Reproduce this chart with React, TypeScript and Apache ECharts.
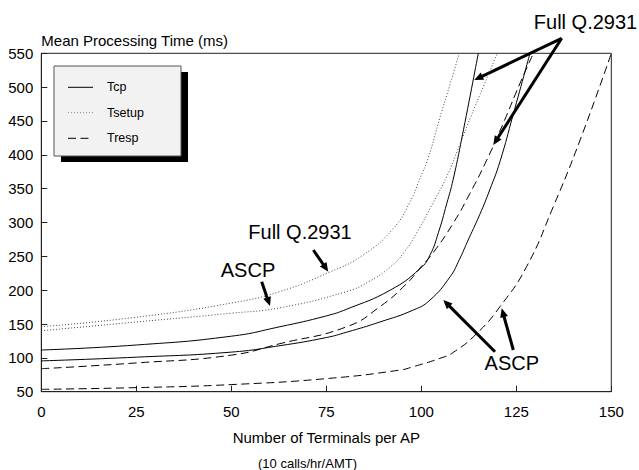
import React, { useEffect, useRef } from 'react';
import * as echarts from 'echarts';

// ---- data (x = terminals per AP, y = mean processing time ms) ----
const tcpFull: number[][] = [
  [0, 111.6], [25, 119], [50, 132], [62.8, 146], [75, 162], [80.4, 172], [91.8, 200],
  [99.7, 232], [102.3, 252], [104.5, 285], [106.7, 328], [108.4, 364], [111.1, 437], [115, 550],
];
const tcpAscp: number[][] = [
  [0, 95.5], [25, 101], [50, 108.5], [62.8, 118], [75, 130], [80.4, 138], [89.1, 153],
  [97.9, 170.7], [102.3, 185.5], [107.6, 220], [110, 245], [112, 270], [115.4, 312],
  [118, 348], [120.7, 390], [124.2, 460], [128.6, 550],
];
const tsetupFull: number[][] = [
  [0, 146], [25, 160], [50, 181], [62.8, 198], [76, 227], [84.7, 252], [92.6, 291],
  [97, 330], [99.7, 366], [101.8, 395], [104.9, 455], [107.5, 503], [110, 550],
];
const tsetupAscp: number[][] = [
  [0, 140], [25, 153], [50, 166], [62.8, 174], [80.4, 198], [86, 212], [91.8, 234],
  [95.5, 256], [98.8, 285], [103, 328], [106.7, 368], [110, 413], [113, 456],
  [116.5, 503], [120, 550],
];
const trespFull: number[][] = [
  [0, 84], [25, 92.5], [50, 104], [62.8, 121], [80.4, 146], [89.1, 175.6], [96.2, 210],
  [99.7, 233], [103.2, 256], [108.4, 299], [112.8, 343], [117.2, 392], [121.6, 447],
  [126, 506], [129.5, 550],
];
const trespAscp: number[][] = [
  [0, 53.5], [25, 56], [50, 60.5], [76, 69.8], [94.4, 82], [97.9, 87], [104.9, 99.3],
  [108.4, 108], [114.6, 136], [120.7, 175.6], [127.7, 234.7], [134.7, 323],
  [141.8, 422], [150, 550],
];

const legendNames = ['Tcp', 'Tsetup', 'Tresp'];
const titleText = 'Mean Processing Time (ms)';
const xName = 'Number of Terminals per AP';
const xSubName = '(10 calls/hr/AMT)';
const labelFull = 'Full Q.2931';
const labelAscp = 'ASCP';

const FONT = '"Liberation Sans", Arial, Helvetica, sans-serif';
const SOLID: any = 'solid';
const DOTTED: any = [1, 2];
const DASHED: any = [8, 4.5];

function arrow(x1: number, y1: number, x2: number, y2: number) {
  const dx = x2 - x1, dy = y2 - y1;
  const len = Math.hypot(dx, dy);
  const ux = dx / len, uy = dy / len;
  const hl = 9, hw = 4;
  const bx = x2 - ux * hl, by = y2 - uy * hl;
  return {
    type: 'group',
    z: 100,
    children: [
      { type: 'line', shape: { x1, y1, x2: bx + ux * 1, y2: by + uy * 1 }, style: { stroke: '#000', lineWidth: 3 } },
      {
        type: 'polygon',
        shape: { points: [[x2, y2], [bx - uy * hw, by + ux * hw], [bx + uy * hw, by - ux * hw]] },
        style: { fill: '#000' },
      },
    ],
  };
}

function txt(x: number, y: number, text: string, size: number, align = 'center') {
  return {
    type: 'text', x, y, z: 100,
    style: { text, fontSize: size, fontFamily: FONT, fill: '#000', align, verticalAlign: 'middle' },
  };
}

function mkSeries(name: string, data: number[][], type: any, color: string) {
  return {
    type: 'line', name, data, showSymbol: false, symbol: 'none', smooth: 0.5, clip: true,
    lineStyle: { color, width: 1, type },
  };
}

export default function App() {
  const ref = useRef<HTMLDivElement>(null);
  useEffect(() => {
    if (!ref.current) return;
    const chart = echarts.init(ref.current, undefined, { renderer: 'svg' });
    const lx = 54, ly = 66, lw = 127, lh = 90;
    const rows = [87.3, 112.7, 138.3];
    const styles = [SOLID, DOTTED, DASHED];
    const legendColors = ['#000', '#888', '#000'];
    const legendEls: any[] = [
      { type: 'rect', z: 90, shape: { x: lx + 7, y: ly + 6, width: lw, height: lh }, style: { fill: '#000' } },
      { type: 'rect', z: 91, shape: { x: lx, y: ly, width: lw, height: lh }, style: { fill: '#f2f2f2', stroke: '#555', lineWidth: 1 } },
    ];
    rows.forEach((ry, i) => {
      legendEls.push({
        type: 'line', z: 92, shape: { x1: 68, y1: ry, x2: 93, y2: ry },
        style: { stroke: legendColors[i], lineWidth: 1, lineDash: styles[i] === 'solid' ? null : styles[i] },
      });
      legendEls.push({
        type: 'text', x: 107, y: ry, z: 92,
        style: { text: legendNames[i], fontSize: 12.5, fontFamily: FONT, fill: '#000', align: 'left', verticalAlign: 'middle' },
      });
    });

    chart.setOption({
      animation: false,
      backgroundColor: '#fff',
      textStyle: { fontFamily: FONT, color: '#000' },
      grid: { left: 41.3, right: 27.7, top: 53.3, bottom: 78.3, show: true, borderColor: '#222', borderWidth: 1, backgroundColor: 'transparent' },
      xAxis: {
        type: 'value', min: 0, max: 150, interval: 25,
        name: xName, nameLocation: 'middle', nameGap: 46,
        nameTextStyle: { fontSize: 15, color: '#000', fontFamily: FONT, verticalAlign: 'middle' },
        axisLine: { show: true, lineStyle: { color: '#222' } },
        axisTick: { show: true, inside: true, length: 6, lineStyle: { color: '#222' } },
        axisLabel: { fontSize: 15, color: '#000', margin: 12, fontFamily: FONT },
        splitLine: { show: false },
      },
      yAxis: {
        type: 'value', min: 50, max: 550, interval: 50,
        name: titleText, nameLocation: 'end', nameGap: 13.3,
        nameTextStyle: { fontSize: 15, color: '#000', fontFamily: FONT, align: 'left', verticalAlign: 'middle' },
        axisLine: { show: true, lineStyle: { color: '#222' } },
        axisTick: { show: true, inside: true, length: 6, lineStyle: { color: '#222' } },
        axisLabel: { fontSize: 15, color: '#000', margin: 8, fontFamily: FONT },
        splitLine: { show: false },
      },
      series: [
        mkSeries('Tcp Full Q.2931', tcpFull, SOLID, '#000'),
        mkSeries('Tcp ASCP', tcpAscp, SOLID, '#000'),
        mkSeries('Tsetup Full Q.2931', tsetupFull, DOTTED, '#444'),
        mkSeries('Tsetup ASCP', tsetupAscp, DOTTED, '#444'),
        mkSeries('Tresp Full Q.2931', trespFull, DASHED, '#000'),
        mkSeries('Tresp ASCP', trespAscp, DASHED, '#000'),
      ],
      graphic: [
        ...legendEls,
        txt(585.5, 21.7, labelFull, 20),
        arrow(561.7, 38.3, 474.3, 80),
        arrow(561.7, 38.3, 493.3, 145),
        txt(300, 231.7, labelFull, 20),
        arrow(313.3, 250, 328.3, 271.7),
        txt(248, 270, labelAscp, 20),
        arrow(261.7, 281.7, 270, 306),
        txt(511.8, 362.7, labelAscp, 20),
        arrow(495, 351.7, 443.3, 300),
        arrow(513.3, 350, 501.7, 308.3),
        txt(307.5, 463.3, xSubName, 13),
      ],
    });
    return () => chart.dispose();
  }, []);
  return <div ref={ref} style={{ position: 'absolute', left: 0, top: 0, width: 639, height: 470 }} />;
}
